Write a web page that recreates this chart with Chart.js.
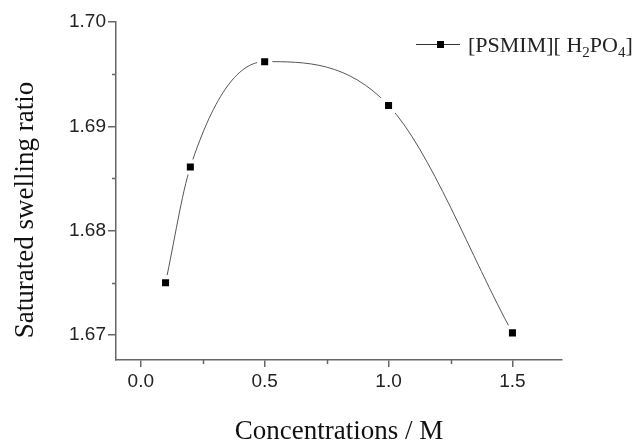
<!DOCTYPE html>
<html>
<head>
<meta charset="utf-8">
<script src="https://cdn.jsdelivr.net/npm/chart.js@4.4.1/dist/chart.umd.min.js"></script>
<style>
  body { margin: 0; background: #fff; }
  #wrap { width: 639px; height: 445px; position: relative; }
</style>
</head>
<body>
<div id="wrap"><canvas id="swell"></canvas></div>
<script>
// saturated swelling ratio vs concentration
var concentrations = [0.1, 0.2, 0.5, 1.0, 1.5];
var swellingRatio = [1.6750, 1.6861, 1.6962, 1.6920, 1.6702];
var seriesName = '[PSMIM][ H₂PO₄]';
var yTitle = 'Saturated swelling ratio';
var xTicks = [0.0, 0.5, 1.0, 1.5];
var yTicks = [1.67, 1.68, 1.69, 1.70];
var xMinor = [0.25, 0.75, 1.25];
var yMinor = [1.675, 1.685, 1.695];

var points = concentrations.map(function(c, i){ return {x: c, y: swellingRatio[i]}; });

var axisColor = '#666';
var serif = '"Liberation Serif", "Times New Roman", serif';
var sans = '"Liberation Sans", Arial, sans-serif';

// minor ticks, y title (sits a bit low in the original) and origin style legend
var extras = {
  id: 'extras',
  afterDraw: function(chart){
    var ctx = chart.ctx, xs = chart.scales.x, ys = chart.scales.y;
    var area = chart.chartArea;
    ctx.save();
    ctx.strokeStyle = axisColor;
    ctx.lineWidth = 1.5;
    ctx.beginPath();
    xMinor.forEach(function(v){
      var px = Math.round(xs.getPixelForValue(v)) + 0.5;
      ctx.moveTo(px, area.bottom);
      ctx.lineTo(px, area.bottom + 4);
    });
    yMinor.forEach(function(v){
      var py = Math.round(ys.getPixelForValue(v)) + 0.5;
      ctx.moveTo(area.left, py);
      ctx.lineTo(area.left - 4, py);
    });
    ctx.stroke();

    // y title
    ctx.save();
    ctx.translate(26, 210);
    ctx.rotate(-Math.PI / 2);
    ctx.font = '27px ' + serif;
    ctx.fillStyle = '#111';
    ctx.textAlign = 'center';
    ctx.textBaseline = 'middle';
    ctx.fillText(yTitle, 0, 0);
    ctx.restore();

    // legend
    var ly = 44;
    ctx.strokeStyle = '#333';
    ctx.lineWidth = 1;
    ctx.beginPath();
    ctx.moveTo(416, ly + 0.5);
    ctx.lineTo(460, ly + 0.5);
    ctx.stroke();
    ctx.fillStyle = '#000';
    ctx.fillRect(437, ly - 3, 7, 7);

    var x = 468, base = 52;
    var subs = '₀₁₂₃₄₅₆₇₈₉';
    ctx.fillStyle = '#222';
    ctx.textBaseline = 'alphabetic';
    for (var i = 0; i < seriesName.length; i++) {
      var ch = seriesName[i];
      var k = subs.indexOf(ch);
      if (k >= 0) {
        ctx.font = '15px ' + serif;
        ctx.fillText(String(k), x, base + 5);
        x += ctx.measureText(String(k)).width;
      } else {
        ctx.font = '22px ' + serif;
        ctx.fillText(ch, x, base);
        x += ctx.measureText(ch).width;
      }
    }
    ctx.restore();
  }
};

new Chart(document.getElementById('swell'), {
  type: 'line',
  data: {
    datasets: [{
      label: seriesName,
      data: points,
      showLine: false,
      pointStyle: 'rect',
      pointRadius: 7.8,
      pointBackgroundColor: '#000',
      pointBorderColor: '#fff',
      pointBorderWidth: 4
    }, {
      label: 'spline',
      data: points,
      borderColor: '#555',
      borderWidth: 1,
      pointRadius: 0,
      cubicInterpolationMode: 'monotone',
      fill: false
    }]
  },
  options: {
    responsive: true,
    maintainAspectRatio: false,
    animation: false,
    layout: { padding: { left: 0, right: 77, top: 22, bottom: 0 } },
    plugins: { legend: { display: false }, tooltip: { enabled: false } },
    scales: {
      x: {
        type: 'linear',
        min: -0.1,
        max: 1.7,
        afterBuildTicks: function(s){ s.ticks = xTicks.map(function(v){ return {value: v}; }); },
        afterFit: function(s){ s.height = 85; },
        ticks: {
          color: '#222',
          font: { family: sans, size: 19 },
          padding: 3,
          maxRotation: 0,
          callback: function(v){ return Number(v).toFixed(1); }
        },
        grid: { drawOnChartArea: false, drawTicks: true, tickLength: 7, color: axisColor, lineWidth: 1.5 },
        border: { display: true, color: axisColor, width: 1.5 },
        title: {
          display: true,
          text: 'Concentrations / M',
          color: '#111',
          font: { family: serif, size: 27, lineHeight: 1.0 },
          padding: { top: 0, bottom: 0 }
        }
      },
      y: {
        type: 'linear',
        min: 1.6676,
        max: 1.70,
        afterBuildTicks: function(s){ s.ticks = yTicks.map(function(v){ return {value: v}; }); },
        afterFit: function(s){ s.width = 116; },
        ticks: {
          color: '#222',
          font: { family: sans, size: 19 },
          padding: 2,
          callback: function(v){ return Number(v).toFixed(2); }
        },
        grid: { drawOnChartArea: false, drawTicks: true, tickLength: 8, color: axisColor, lineWidth: 1.5 },
        border: { display: true, color: axisColor, width: 1.5 },
        title: { display: false }
      }
    }
  },
  plugins: [extras]
});
</script>
</body>
</html>
